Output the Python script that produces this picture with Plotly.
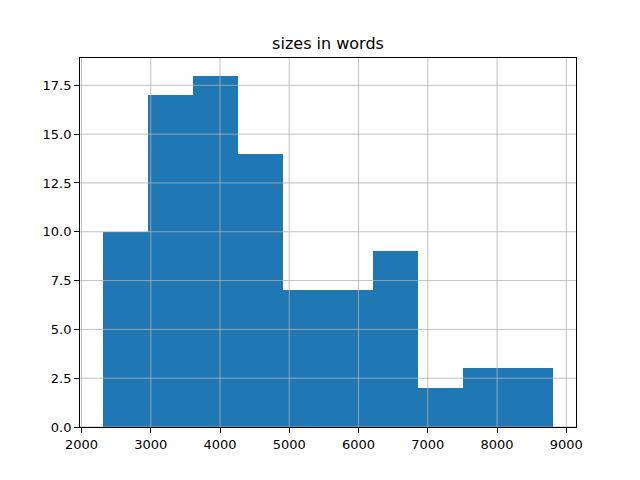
import plotly.graph_objects as go

bin_edges = [2304, 2955, 3606, 4257, 4908, 5559, 6210, 6861, 7512, 8163, 8814]
counts = [10, 17, 18, 14, 7, 7, 9, 2, 3, 3]
x_ticks = [2000, 3000, 4000, 5000, 6000, 7000, 8000, 9000]
y_ticks = [0, 2.5, 5, 7.5, 10, 12.5, 15, 17.5]
y_tick_text = ["0.0", "2.5", "5.0", "7.5", "10.0", "12.5", "15.0", "17.5"]

centers = [(a + b) / 2 for a, b in zip(bin_edges[:-1], bin_edges[1:])]
widths = [b - a for a, b in zip(bin_edges[:-1], bin_edges[1:])]

span = bin_edges[-1] - bin_edges[0]
xr = [bin_edges[0] - 0.05 * span, bin_edges[-1] + 0.05 * span]
yr = [0, max(counts) * 1.05]

fig = go.Figure(go.Bar(x=centers, y=counts, width=widths,
                       marker=dict(color="#1f77b4", line=dict(width=0))))

shapes = []
for t in x_ticks:
    shapes.append(dict(type="line", xref="x", yref="paper", x0=t, x1=t, y0=0, y1=1,
                       line=dict(color="#b0b0b0", width=0.8), layer="above"))
for t in y_ticks:
    shapes.append(dict(type="line", xref="paper", yref="y", x0=0, x1=1, y0=t, y1=t,
                       line=dict(color="#b0b0b0", width=0.8), layer="above"))

W, H = 632, 472
fig.update_layout(
    width=W, height=H,
    margin=dict(l=72, r=64, t=50, b=53),
    paper_bgcolor="white", plot_bgcolor="white",
    font=dict(family="DejaVu Sans", size=13, color="black"),
    title=dict(text="sizes in words", x=320/W, xanchor="center",
               y=1 - 35/H, yanchor="middle", yref="container",
               font=dict(size=16, family="DejaVu Sans", color="black")),
    showlegend=False, bargap=0,
    shapes=shapes,
)
fig.update_xaxes(range=xr, tickvals=x_ticks, ticks="outside", ticklen=5, tickwidth=0.8,
                 tickcolor="black", showgrid=False, zeroline=False, showline=True,
                 linecolor="black", linewidth=0.8, mirror=True)
fig.update_yaxes(range=yr, tickvals=y_ticks, ticktext=y_tick_text, ticks="outside",
                 ticklen=5, tickwidth=0.8, tickcolor="black", showgrid=False,
                 zeroline=False, showline=True, linecolor="black", linewidth=0.8,
                 mirror=True)

fig.write_html("out.html")
